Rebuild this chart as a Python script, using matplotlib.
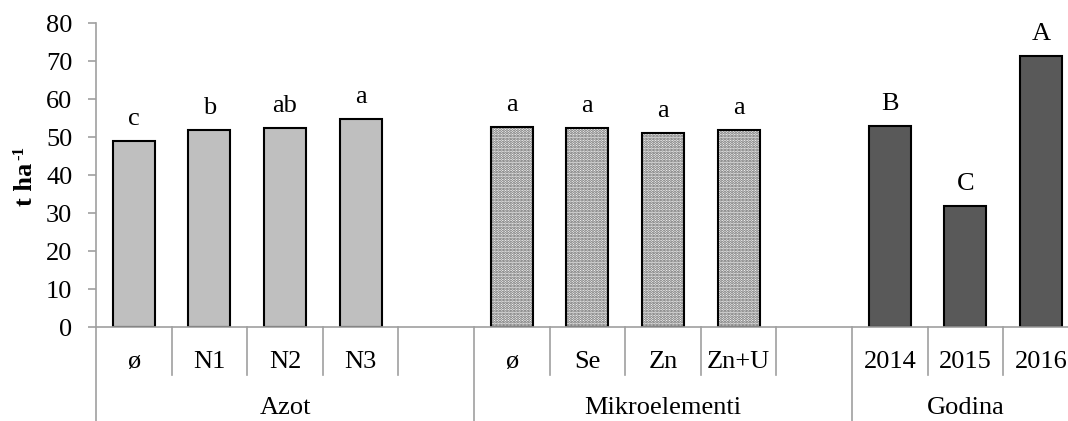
import matplotlib
matplotlib.use("Agg")
import matplotlib.pyplot as plt

# data
azot_labels = ["ø", "N1", "N2", "N3"]
azot_values = [48.9, 51.8, 52.4, 54.7]
azot_letters = ["c", "b", "ab", "a"]

mikro_labels = ["ø", "Se", "Zn", "Zn+U"]
mikro_values = [52.6, 52.4, 51.0, 51.8]
mikro_letters = ["a", "a", "a", "a"]

godina_labels = ["2014", "2015", "2016"]
godina_values = [52.9, 31.8, 71.2]
godina_letters = ["B", "C", "A"]

group_names = ["Azot", "Mikroelementi", "Godina"]

plt.rcParams["font.family"] = ["Liberation Serif", "DejaVu Serif"]
plt.rcParams["hatch.linewidth"] = 1.4
FS = 19
AXIS_GREY = "#A0A0A0"

W, H = 1068, 421
fig = plt.figure(figsize=(W / 100, H / 100), dpi=100)
slot = 75.6
x0, y0, ytop = 96, 327, 23
n_slots = 13
ax = fig.add_axes([x0 / W, (H - y0) / H, n_slots * slot / W, (y0 - ytop) / H])

# slot layout: each group followed by an empty slot (except the last)
groups = [
    (azot_labels, azot_values, azot_letters, dict(color="#BFBFBF")),
    (mikro_labels, mikro_values, mikro_letters, dict(color="white", hatch="......")),
    (godina_labels, godina_values, godina_letters, dict(color="#595959")),
]

bw = 0.555
pos = 0
group_spans = []
for labels, values, letters, style in groups:
    start = pos
    xs = [pos + i + 0.5 for i in range(len(labels))]
    if "hatch" in style:
        ax.bar(xs, values, width=bw, color="white", edgecolor="#5A5A5A",
               hatch=style["hatch"], linewidth=0)
        ax.bar(xs, values, width=bw, fill=False, edgecolor="black", linewidth=1.5)
    else:
        ax.bar(xs, values, width=bw, color=style["color"], edgecolor="black",
               linewidth=1.5)
    for x, v, lab, let in zip(xs, values, labels, letters):
        ax.annotate(let, (x, v), xytext=(0, 8), textcoords="offset points",
                    ha="center", va="bottom", fontsize=FS)
        ax.text(x, -0.115, lab, transform=ax.get_xaxis_transform(),
                ha="center", va="center", fontsize=FS)
    pos += len(labels)
    if len(group_spans) < 2:
        pos += 1
    group_spans.append((start, pos))

ax.set_xlim(0, n_slots)
ax.set_ylim(0, 80)
ax.set_yticks(range(0, 81, 10))
ax.tick_params(axis="y", labelsize=FS, length=6, color=AXIS_GREY, width=1.2, pad=11)
ax.set_xticks([])
for s in ["top", "right"]:
    ax.spines[s].set_visible(False)
for s in ["left", "bottom"]:
    ax.spines[s].set_color(AXIS_GREY)
    ax.spines[s].set_linewidth(1.2)

# y label "t ha-1" with a small superscript hyphen
fig.text(25 / W, 1 - 184 / H, "t ha", rotation=90, ha="center", va="center",
         fontsize=FS, fontweight="bold")
fig.text(19 / W, 1 - 153 / H, "-1", rotation=90, ha="center", va="center",
         fontsize=12, fontweight="bold")

# multi-level category axis lines
tr = ax.get_xaxis_transform()
row1 = -48 / (y0 - ytop)
row2 = -(H - y0) / (y0 - ytop)
group_edges = [s for s, e in group_spans]
for b in range(n_slots + 1):
    bottom = row2 if b in group_edges else row1
    ax.plot([b, b], [0, bottom], transform=tr, color=AXIS_GREY, lw=1.2,
            clip_on=False)

for (s, e), name in zip(group_spans, group_names):
    ax.text((s + e) / 2, -0.265, name, transform=tr, ha="center", va="center",
            fontsize=FS)

fig.savefig("out.png", dpi=100)
